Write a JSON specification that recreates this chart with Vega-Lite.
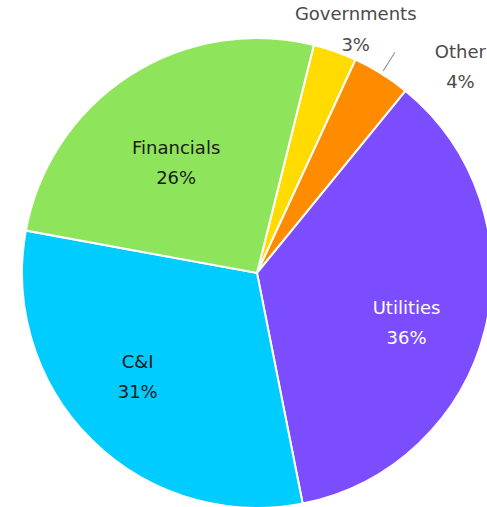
{
  "$schema": "https://vega.github.io/schema/vega-lite/v6.json",
  "width": 514,
  "height": 546,
  "padding": 0,
  "autosize": {"type": "none"},
  "background": "white",
  "config": {"view": {"stroke": null}, "text": {"font": "DejaVu Sans"}},
  "data": {
    "values": [
      {"cat": "Governments", "pct": 3, "ord": 1},
      {"cat": "Other", "pct": 4, "ord": 2},
      {"cat": "Utilities", "pct": 36, "ord": 3},
      {"cat": "C&I", "pct": 31, "ord": 4},
      {"cat": "Financials", "pct": 26, "ord": 5}
    ]
  },
  "transform": [{"calculate": "datum.cat + '\\n' + datum.pct + '%'", "as": "label"}],
  "encoding": {
    "theta": {"field": "pct", "type": "quantitative", "stack": "zero", "scale": {"range": [0.2443, 6.5275]}},
    "order": {"field": "ord", "type": "quantitative"}
  },
  "layer": [
    {
      "mark": {"type": "arc", "radius": 235, "stroke": "white", "strokeWidth": 2},
      "encoding": {
        "color": {
          "field": "cat", "type": "nominal", "legend": null,
          "scale": {
            "domain": ["Governments", "Other", "Utilities", "C&I", "Financials"],
            "range": ["#FFDB00", "#FF8C00", "#7C4DFF", "#00CCFF", "#8EE55B"]
          }
        }
      }
    },
    {
      "mark": {"type": "arc", "radius": 238, "radius2": 260, "padAngle": 0.6, "fillOpacity": 0, "stroke": "#999999", "strokeWidth": 1},
      "encoding": {
        "strokeOpacity": {"condition": {"test": "datum.cat === 'Other'", "value": 1}, "value": 0}
      }
    },
    {
      "mark": {"type": "text", "radius": 140, "dx": -5, "dy": -6, "fontSize": 18, "lineHeight": 30, "lineBreak": "\n", "baseline": "middle", "align": "center", "color": "#1a1a1a"},
      "encoding": {"text": {"condition": {"test": "datum.cat === 'Financials'", "field": "label"}, "value": ""}}
    },
    {
      "mark": {"type": "text", "radius": 150, "dx": 4, "dy": 0, "fontSize": 18, "lineHeight": 30, "lineBreak": "\n", "baseline": "middle", "align": "center", "color": "#ffffff"},
      "encoding": {"text": {"condition": {"test": "datum.cat === 'Utilities'", "field": "label"}, "value": ""}}
    },
    {
      "mark": {"type": "text", "radius": 150, "dx": -14, "dy": -17, "fontSize": 18, "lineHeight": 30, "lineBreak": "\n", "baseline": "middle", "align": "center", "color": "#1a1a1a"},
      "encoding": {"text": {"condition": {"test": "datum.cat === 'C&I'", "field": "label"}, "value": ""}}
    },
    {
      "mark": {"type": "text", "radius": 255, "dx": 14, "dy": -17, "fontSize": 18, "lineHeight": 31, "lineBreak": "\n", "baseline": "middle", "align": "center", "color": "#4a4a4a"},
      "encoding": {"text": {"condition": {"test": "datum.cat === 'Governments'", "field": "label"}, "value": ""}}
    },
    {
      "mark": {"type": "text", "radius": 265, "dx": 63, "dy": 5, "fontSize": 18, "lineHeight": 30, "lineBreak": "\n", "baseline": "middle", "align": "center", "color": "#4a4a4a"},
      "encoding": {"text": {"condition": {"test": "datum.cat === 'Other'", "field": "label"}, "value": ""}}
    }
  ]
}
